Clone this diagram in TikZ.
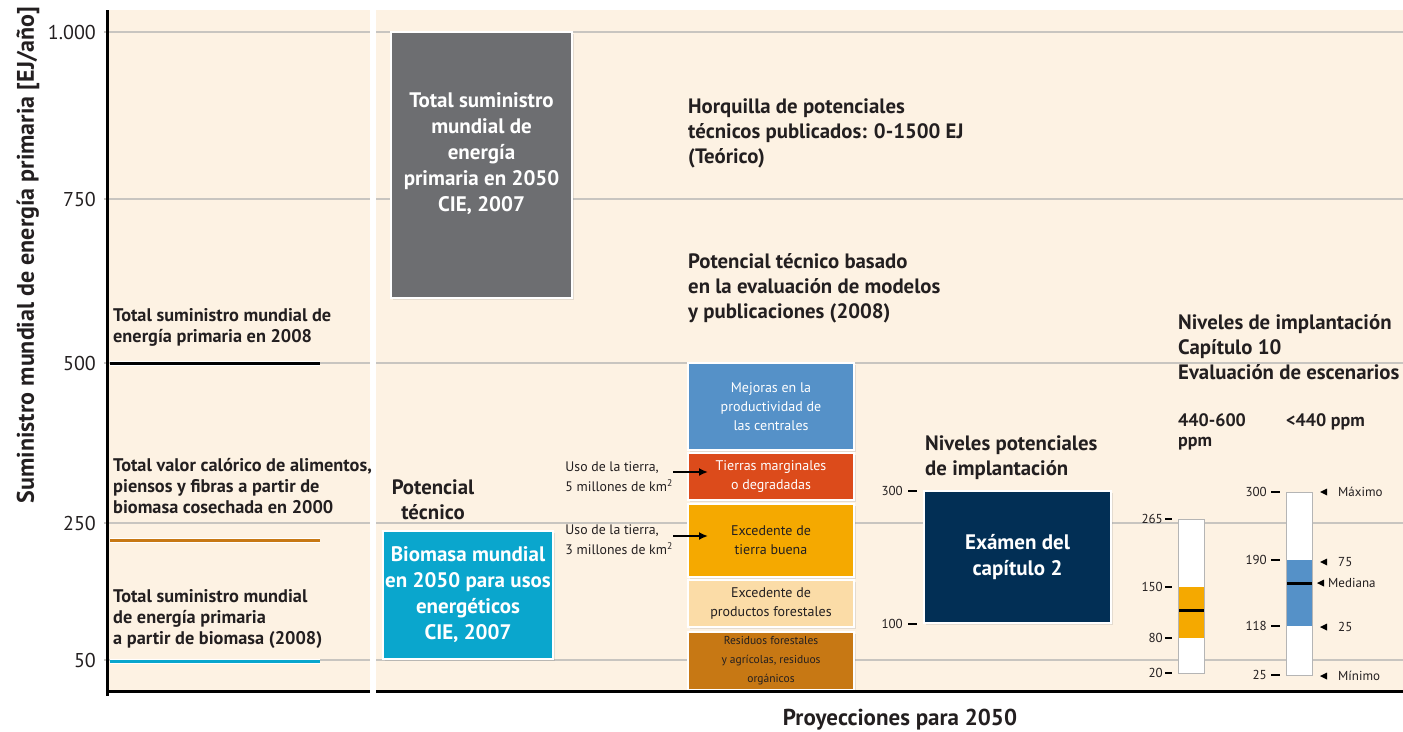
\documentclass[tikz,border=0pt]{standalone}
\usepackage{fontspec}
\setmainfont{PT Sans}
\usepackage{amssymb}
\usetikzlibrary{arrows.meta,shadows}

\definecolor{paper}{HTML}{FDF2E3}
\definecolor{gridc}{HTML}{C8C5C0}
\definecolor{slate}{HTML}{6D6E71}
\definecolor{cyanb}{HTML}{0AA6CD}
\definecolor{blueb}{HTML}{5591C8}
\definecolor{redb}{HTML}{DC4B1B}
\definecolor{orangeb}{HTML}{F5A900}
\definecolor{peachb}{HTML}{FBDCA7}
\definecolor{brownb}{HTML}{C77814}
\definecolor{navy}{HTML}{022F55}
\definecolor{ink}{HTML}{231F20}
\definecolor{barline}{HTML}{B5B5B5}

\begin{document}
\begin{tikzpicture}[x=1pt,y=-1pt,
  every node/.style={inner sep=0pt, text=ink},
  lbl/.style={font=\bfseries\fontsize{18.3}{21}\selectfont, align=left, anchor=west},
  head/.style={font=\bfseries\fontsize{20.8}{25}\selectfont, align=left, anchor=west},
  num/.style={font=\fontsize{20}{20}\selectfont, anchor=east},
  tnum/.style={font=\fontsize{13}{13}\selectfont, anchor=east},
  usel/.style={font=\fontsize{13.8}{20}\selectfont, align=left, anchor=east},
  grid/.style={draw=gridc, line width=1.5pt},
  halo/.style={line width=3pt, preaction={draw=white, line width=5pt}},
  boxtext/.style={align=center, text=white, font=\bfseries\fontsize{21}{26}\selectfont},
  box/.style={boxtext, draw=white, line width=2pt,
    drop shadow={shadow xshift=1.5pt, shadow yshift=-1.5pt, opacity=0.2}},
  stack/.style={draw=white, line width=2pt, align=center, minimum width=166pt,
    font=\fontsize{14}{19}\selectfont,
    drop shadow={shadow xshift=1.5pt, shadow yshift=-1.5pt, opacity=0.2}},
  arr/.style={line width=2.8pt, -{Latex[length=9pt,width=8pt]}},
  tick/.style={line width=1.5pt}]
\useasboundingbox (0,0) rectangle (1403,731);

% panels and grid
\fill[paper] (108,10) rectangle (370,691);
\fill[paper] (376,10) rectangle (1403,691);
\foreach \y in {32,199,363,523,660} {
  \draw[grid] (104,\y) -- (370,\y);
  \draw[grid] (376,\y) -- (1403,\y);
}

% y axis
\node[rotate=90, font=\bfseries\fontsize{24}{24}\selectfont] (ylab) at (28,255) {Suministro mundial de energía primaria [EJ/año]};
\foreach \y/\v in {32/1.000,199/750,363/500,523/250,660/50}
  \node[num] (y\y) at (96,\y) {\v};

% left panel
\node[lbl] (l2008) at (113,327) {Total suministro mundial de\\energía primaria en 2008};
\draw[halo, black] (110,363) -- (320,363);
\node[lbl] (lcal) at (113,486) {Total valor calórico de alimentos,\\piensos y fibras a partir de\\biomasa cosechada en 2000};
\draw[halo, brownb] (110,540) -- (320,540);
\node[lbl] (lbio) at (113,619) {Total suministro mundial\\de energía primaria\\a partir de biomasa (2008)};
\draw[halo, cyanb] (110,661) -- (320,661);

% 2050 boxes
\node[box, fill=slate, minimum width=181pt, minimum height=266pt] (tpes) at (481.5,165) {};
\node[boxtext] (tpestxt) at (481.5,154) {Total suministro\\mundial de\\energía\\primaria en 2050\\CIE, 2007};
\node[head, anchor=center, align=center] (pot) at (433,500) {Potencial\\técnico};
\node[box, fill=cyanb, minimum width=170pt, minimum height=128pt] (bio) at (468,595) {Biomasa mundial\\en 2050 para usos\\energéticos\\CIE, 2007};

\node[head] (horq) at (688,133) {Horquilla de potenciales\\técnicos publicados: 0-1500 EJ\\(Teórico)};
\node[head] (basado) at (688,288) {Potencial técnico basado\\en la evaluación de modelos\\y publicaciones (2008)};

% stacked potential
\node[stack, fill=blueb, text=white, minimum height=87pt] (mej) at (771,406.5) {Mejoras en la\\productividad de\\las centrales};
\node[stack, fill=redb, text=white, minimum height=47pt] (tier) at (771,476.5) {Tierras marginales\\o degradadas};
\node[stack, fill=orangeb, minimum height=73pt] (exc) at (771,540.5) {Excedente de\\tierra buena};
\node[stack, fill=peachb, minimum height=47pt] (prod) at (771,603.5) {Excedente de\\productos forestales};
\node[stack, fill=brownb, minimum height=58pt, font=\fontsize{11.5}{19}\selectfont] (res) at (771,661) {Residuos forestales\\y agrícolas, residuos\\orgánicos};

\node[usel] (uso5) at (673,477) {Uso de la tierra,\\5 millones de km\textsuperscript{2}};
\coordinate (a5) at (708,472);
\draw[arr] (uso5.east |- a5) -- (a5);
\node[usel] (uso3) at (673,540) {Uso de la tierra,\\3 millones de km\textsuperscript{2}};
\coordinate (a3) at (708,536);
\draw[arr] (uso3.east |- a3) -- (a3);

% chapter 2
\node[head] (nivpot) at (925,458) {Niveles potenciales\\de implantación};
\node[box, fill=navy, minimum width=187pt, minimum height=132pt] (cap2) at (1017.5,557) {Exámen del\\capítulo 2};
\foreach \y/\v in {491/300,624/100} {
  \node[tnum] (n\v) at (903,\y) {\v};
  \draw[tick] (908,\y) -- (917,\y);
}

% chapter 10
\node[head] (niv10) at (1178,347) {Niveles de implantación\\Capítulo 10\\Evaluación de escenarios};
\node[font=\bfseries\fontsize{18}{20}\selectfont, align=left, anchor=west] (ppm1) at (1178,432) {440-600\\ppm};
\node[font=\bfseries\fontsize{18}{20}\selectfont, anchor=west] (ppm2) at (1286,422) {<440 ppm};

\fill[white] (1178,519) rectangle (1204,673);
\fill[orangeb] (1178,587) rectangle (1204,638);
\draw[line width=3pt] (1178,610) -- (1204,610);
\draw[barline, line width=1pt] (1178,519) rectangle (1204,673);
\foreach \y/\v in {519/265,587/150,638/80,673/20} {
  \node[tnum] (p\v) at (1163,\y) {\v};
  \draw[tick] (1165,\y) -- (1172,\y);
}

\fill[white] (1286,492) rectangle (1312,675);
\fill[blueb] (1286,560) rectangle (1312,626);
\draw[line width=3pt] (1286,583) -- (1312,583);
\draw[barline, line width=1pt] (1286,492) rectangle (1312,675);
\foreach \y/\v in {492/300,560/190,626/118,675/25} {
  \node[tnum] (r\v) at (1267,\y) {\v};
  \draw[tick] (1271,\y) -- (1280,\y);
}
\foreach \y/\t/\n in {492/Máximo/qmax,562/75/q75,627/25/q25,676/Mínimo/qmin} {
  \fill (1320,\y) -- ++(7,-3.5) -- ++(0,7) -- cycle;
  \node[tnum, anchor=west] (\n) at (1338,\y) {\t};
}
\fill (1317,583) -- ++(7,-3.5) -- ++(0,7) -- cycle;
\node[tnum, anchor=west] (qmed) at (1328,583) {Mediana};

% axes on top
\draw[line width=3pt] (107,10) -- (107,696);
\draw[line width=3pt] (106,691) -- (370,691);
\draw[line width=3pt] (376,691) -- (1403,691);
\node[font=\bfseries\fontsize{23}{23}\selectfont] (proj) at (900,720) {Proyecciones para 2050};
\end{tikzpicture}
\end{document}
